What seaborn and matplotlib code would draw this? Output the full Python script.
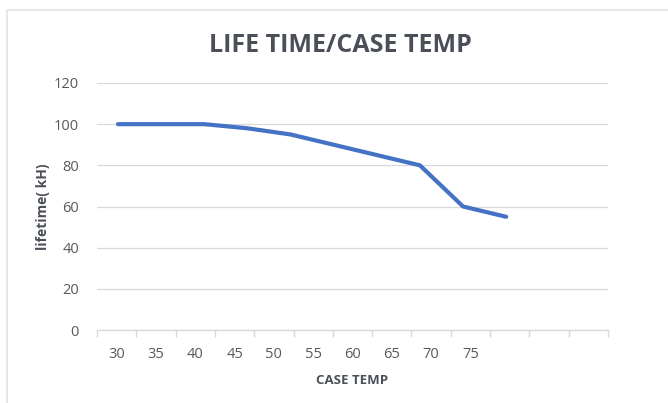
import numpy as np
import matplotlib.pyplot as plt
from matplotlib.patches import Rectangle
import seaborn as sns

# --- Data ---
case_temp = [30, 35, 40, 45, 50, 55, 60, 65, 70, 75]
lifetime_kh = [100, 100, 100, 98, 95, 90, 85, 80, 60, 55]
category_labels = ["30", "35", "40", "45", "50", "55", "60", "65", "70", "75", "", "", ""]
y_ticks = [0, 20, 40, 60, 80, 100, 120]

text_color = "#595959"
title_color = "#4A4F58"
grid_color = "#D9D9D9"
line_color = "#4472C4"

sns.set_style("white")
plt.rcParams["font.family"] = ["Open Sans", "DejaVu Sans"]

fig = plt.figure(figsize=(6.68, 4.03), dpi=100)

# chart frame (light grey, runs off the right/bottom edge)
fig.patches.append(Rectangle((7 / 668, -0.05), 1.0, 1 - 10 / 403 + 0.05,
                             transform=fig.transFigure, fill=False,
                             edgecolor="#E3E3E3", linewidth=1.2))

ax = fig.add_axes([97 / 668, 1 - 330 / 403, 511 / 668, (330 - 83) / 403])

# category axis: tick marks on boundaries, labels on centres
n_cat = len(category_labels)
ax.set_xlim(0, n_cat)
ax.set_xticks(np.arange(n_cat + 1))
ax.set_xticklabels([])
ax.set_xticks(np.arange(n_cat) + 0.5, minor=True)
ax.set_xticklabels(category_labels, minor=True)
ax.tick_params(axis="x", which="major", length=5, color=grid_color, width=1)
ax.tick_params(axis="x", which="minor", length=0, pad=12, labelsize=10.5, labelcolor=text_color)

ax.set_ylim(0, 120)
ax.set_yticks(y_ticks)
ax.tick_params(axis="y", length=0, pad=13, labelsize=10.5, labelcolor=text_color)
ax.yaxis.grid(True, color=grid_color, linewidth=0.9)
ax.set_axisbelow(True)

for side in ["top", "right", "left"]:
    ax.spines[side].set_visible(False)
ax.spines["bottom"].set_color(grid_color)
ax.spines["bottom"].set_linewidth(1)

# line series on its own x scale
ax2 = ax.twiny()
sns.lineplot(x=case_temp, y=lifetime_kh, ax=ax2, color=line_color, linewidth=3,
             solid_capstyle="round", solid_joinstyle="round")
ax2.set_xlim(27.57, 86.8)
ax2.set_xticks([])
for side in ax2.spines:
    ax2.spines[side].set_visible(False)

ax.set_xlabel("CASE TEMP", fontsize=9.5, fontweight="bold", color=title_color, labelpad=9)
ax.set_ylabel("lifetime( kH)", fontsize=10, fontweight="bold", color=title_color, labelpad=3)
fig.text(340 / 668, 1 - 45 / 403, "LIFE TIME/CASE TEMP", ha="center", va="center",
         fontsize=18, fontweight="bold", color=title_color)

fig.savefig("out.png", dpi=100)
